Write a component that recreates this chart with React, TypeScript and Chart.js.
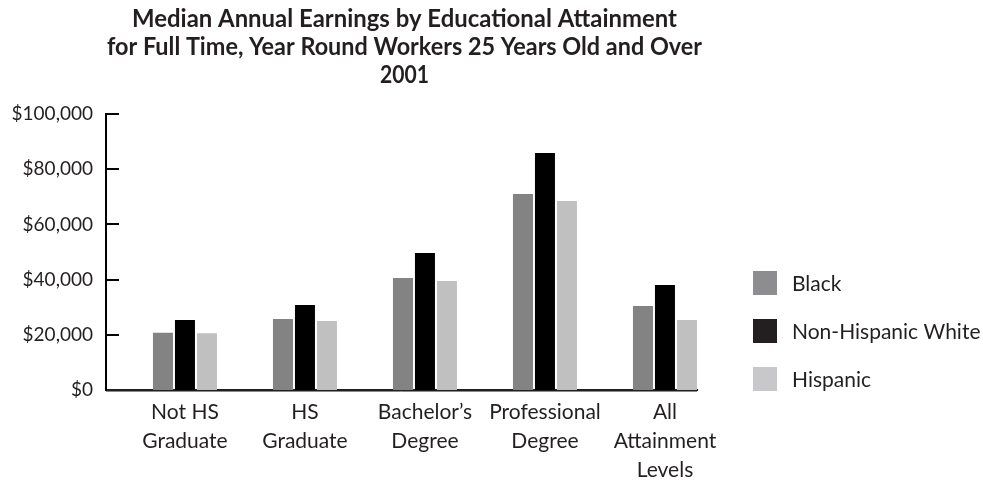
import React, { useEffect, useRef } from "react";
import { Chart, registerables } from "chart.js";

Chart.register(...registerables);

const titleLines = [
  "Median Annual Earnings by Educational Attainment",
  "for Full Time, Year Round Workers 25 Years Old and Over",
  "2001",
];
const categories: string[][] = [
  ["Not HS", "Graduate"],
  ["HS", "Graduate"],
  ["Bachelor\u2019s", "Degree"],
  ["Professional", "Degree"],
  ["All", "Attainment", "Levels"],
];
const seriesNames = ["Black", "Non-Hispanic White", "Hispanic"];
const blackValues = [20700, 25700, 40600, 71000, 30400];
const whiteValues = [25400, 30800, 49600, 85900, 38000];
const hispanicValues = [20600, 25000, 39500, 68500, 25400];
const seriesColors = ["#838383", "#000000", "#c0c0c0"];
const legendColors = ["#8d8d8f", "#231f20", "#c8c8ca"];
const yTicks = [0, 20000, 40000, 60000, 80000, 100000];

const TEXT = "#231f20";
const FONT = "Lato, 'Open Sans', sans-serif";
const TITLE_FONT = "Lato, 'Open Sans', sans-serif";
const titleWidths = [545, 595, 49];

const fmt = (v: number) => "$" + v.toLocaleString("en-US");

const decorPlugin = {
  id: "decor",
  afterDraw(chart: any) {
    const { ctx, chartArea, scales } = chart;
    const y = scales.y;
    ctx.save();
    // inward y ticks
    ctx.strokeStyle = "#000";
    ctx.lineWidth = 2;
    yTicks.forEach((t) => {
      if (t === 0) return;
      const py = Math.round(y.getPixelForValue(t));
      ctx.beginPath();
      ctx.moveTo(chartArea.left, py);
      ctx.lineTo(chartArea.left + 13, py);
      ctx.stroke();
    });
    // subtle gray shadow under the baseline
    ctx.strokeStyle = "#8a8a8a";
    ctx.lineWidth = 1;
    ctx.beginPath();
    ctx.moveTo(chartArea.left, chartArea.bottom + 1.5);
    ctx.lineTo(chartArea.right, chartArea.bottom + 1.5);
    ctx.stroke();
    // title
    ctx.fillStyle = TEXT;
    ctx.textAlign = "center";
    ctx.textBaseline = "alphabetic";
    ctx.font = "bold 24px " + TITLE_FONT;
    const cx = (chartArea.left + chartArea.right) / 2 + 3;
    titleLines.forEach((l, i) => {
      ctx.fillText(l, cx, 27 + i * 28, titleWidths[i]);
    });
    // legend
    ctx.font = "21px " + FONT;
    ctx.textAlign = "left";
    ctx.textBaseline = "middle";
    chart.data.datasets.forEach((ds: any, i: number) => {
      const cy = chartArea.bottom - 11 - (2 - i) * 48;
      const bx = chartArea.right + 56;
      ctx.fillStyle = legendColors[i];
      ctx.fillRect(bx, cy - 12, 24, 24);
      ctx.fillStyle = TEXT;
      ctx.fillText(ds.label, bx + 39, cy + 1);
    });
    ctx.restore();
  },
};

export default function App() {
  const ref = useRef<HTMLCanvasElement>(null);
  useEffect(() => {
    if (!ref.current) return;
    const series = [blackValues, whiteValues, hispanicValues];
    const chart = new Chart(ref.current, {
      type: "bar",
      data: {
        datasets: series.map((vals, s) => ({
          label: seriesNames[s],
          data: vals.map((v, i) => ({ x: i, y: v })),
          backgroundColor: seriesColors[s],
          borderWidth: 0,
          categoryPercentage: 0.55,
          barPercentage: 0.909,
        })),
      },
      options: {
        animation: false,
        responsive: false,
        maintainAspectRatio: false,
        layout: { padding: { top: 114, right: 286, left: 0, bottom: 0 } },
        plugins: {
          legend: { display: false },
          title: { display: false },
          tooltip: { enabled: false },
        },
        scales: {
          x: {
            type: "linear",
            min: -0.658,
            max: 4.267,
            offset: false,
            afterBuildTicks: (scale: any) => {
              scale.ticks = categories.map((_, i) => ({ value: i }));
            },
            afterFit: (scale: any) => {
              scale.height = 90;
            },
            grid: { display: false, drawTicks: false, offset: false },
            border: { display: true, color: "#231f20", width: 2 },
            ticks: {
              autoSkip: false,
              maxRotation: 0,
              padding: 8,
              color: TEXT,
              font: { family: FONT, size: 21, lineHeight: "29px" } as any,
              callback: (v: any) => categories[v] ?? "",
            },
          },
          y: {
            min: 0,
            max: 100000,
            afterBuildTicks: (scale: any) => {
              scale.ticks = yTicks.map((v) => ({ value: v }));
            },
            afterFit: (scale: any) => {
              scale.width = 106;
            },
            grid: { display: false, drawTicks: false },
            border: { display: true, color: "#000", width: 2 },
            ticks: {
              padding: 13,
              color: TEXT,
              font: { family: FONT, size: 19 },
              callback: (v: any) => fmt(Number(v)),
            },
          },
        },
      },
      plugins: [decorPlugin],
    });
    return () => chart.destroy();
  }, []);
  return (
    <canvas
      ref={ref}
      width={983}
      height={480}
      style={{ display: "block", position: "fixed", left: 0, top: 0 }}
    />
  );
}
